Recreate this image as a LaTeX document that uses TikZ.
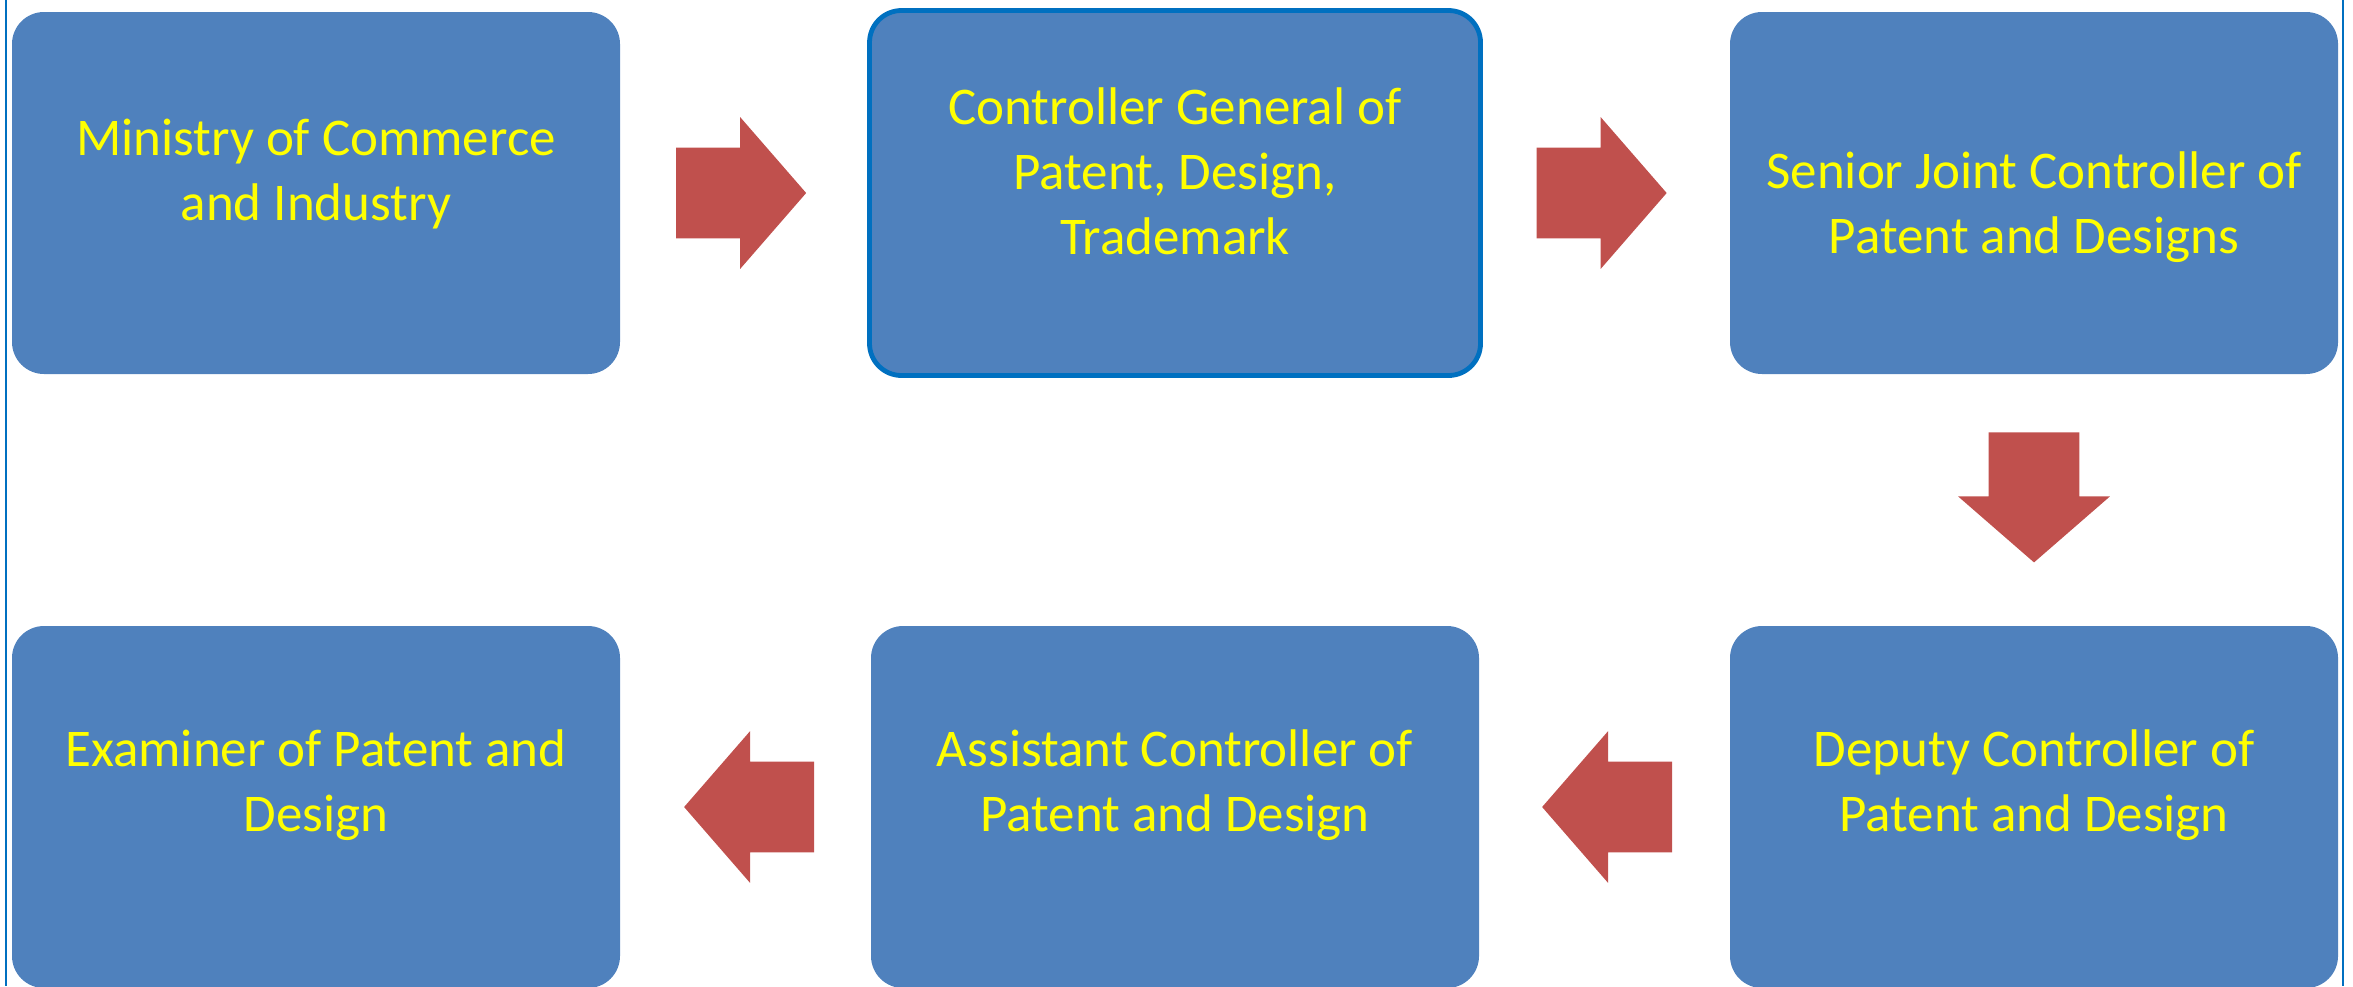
\documentclass[tikz,border=0pt]{standalone}
\usepackage{fontspec}
\setmainfont{Carlito}
\usetikzlibrary{shapes.arrows, calc}

\definecolor{boxblue}{HTML}{4F81BD}
\definecolor{lineblue}{HTML}{0070C0}
\definecolor{arrowred}{HTML}{C0504D}
\definecolor{textyellow}{HTML}{FFFF00}

\tikzset{
    office/.style={fill=boxblue, rounded corners=16pt, minimum width=304pt, minimum height=181pt, inner sep=0pt},
    title/.style={text=textyellow, align=center, inner sep=0pt, font=\fontsize{26.5}{32.5}\selectfont},
    bigarrow/.style={single arrow, fill=arrowred, anchor=tail, text height=0pt, text depth=0pt, inner xsep=0pt, inner ysep=22.5pt,
        minimum height=65pt, single arrow head extend=15.25pt, single arrow tip angle=98},
}

\begin{document}
\begin{tikzpicture}[x=0.5pt, y=-0.5pt]
            \clip (0,0) rectangle (2353,986);
            \useasboundingbox (0,0) rectangle (2353,986);

            % Frame
            \draw[lineblue, line width=1.2pt] (6,0) -- (6,986);
            \draw[lineblue, line width=1.2pt] (2343,0) -- (2343,986);

            % Nodes
            \node[office] (ministry) at (316,193) {};
            \node[office, right of=ministry, node distance=429.5pt, draw=lineblue, line width=2.4pt,
                  minimum width=305.5pt, minimum height=182.5pt] (controller) {};
            \node[office, right of=controller, node distance=429.5pt] (senior) {};
            \node[office, below of=senior, node distance=307pt] (deputy) {};
            \node[office, left of=deputy, node distance=429.5pt] (assistant) {};
            \node[office, left of=assistant, node distance=429.5pt] (examiner) {};

            % Texts
            \node[title] (ministry_txt) at ([yshift=9.5pt]ministry.center) {Ministry of Commerce\\and Industry};
            \node[title] (controller_txt) at ([yshift=11pt]controller.center) {Controller General of\\Patent, Design,\\Trademark};
            \node[title] (senior_txt) at ([yshift=-7pt]senior.center) {Senior Joint Controller of\\Patent and Designs};
            \node[title] (deputy_txt) at ([yshift=11pt]deputy.center) {Deputy Controller of\\Patent and Design};
            \node[title] (assistant_txt) at ([yshift=11pt]assistant.center) {Assistant Controller of\\Patent and Design};
            \node[title] (examiner_txt) at ([yshift=11pt]examiner.center) {Examiner of Patent and\\Design};

            % Arrows (placed by their tail, about half a length before the gap's middle)
            \node[bigarrow] (arrow_a) at ($(ministry.east)!0.5!(controller.west) + (-68,0)$) {};
            \node[bigarrow] (arrow_b) at ($(controller.east)!0.5!(senior.west) + (-70,0)$) {};
            \node[bigarrow, rotate=-90] (arrow_c) at ($(senior.south)!0.5!(deputy.north) + (0,-68)$) {};
            \node[bigarrow, rotate=180] (arrow_d) at ($(deputy.west)!0.5!(assistant.east) + (68,0)$) {};
            \node[bigarrow, rotate=180] (arrow_e) at ($(assistant.west)!0.5!(examiner.east) + (69,0)$) {};
        \end{tikzpicture}
\end{document}
